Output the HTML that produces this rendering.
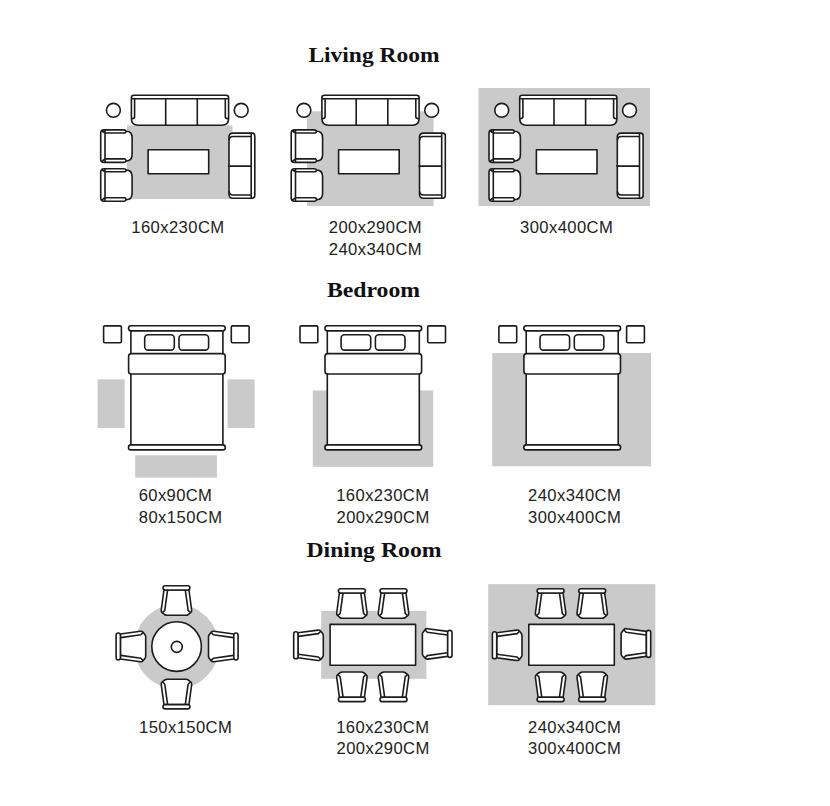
<!DOCTYPE html>
<html><head><meta charset="utf-8">
<style>
html,body{margin:0;padding:0;background:#fff;}
svg{display:block;}
.t{font-family:"Liberation Serif",serif;font-weight:bold;font-size:21px;fill:#111;}
.l{font-family:"Liberation Sans",sans-serif;font-size:16.6px;fill:#222;}
.s{fill:#fff;stroke:#1c1c1c;stroke-width:1.6;stroke-linejoin:round;stroke-linecap:round;}
.n{fill:none;stroke:#1c1c1c;stroke-width:1.6;stroke-linejoin:round;stroke-linecap:round;}
.r{fill:#cacaca;}
</style></head><body>
<svg width="830" height="806" viewBox="0 0 830 806">
<defs>
<!-- living room furniture set, absolute coords of first set -->
<g id="arm">
  <path class="s" d="M100.7,133.4 Q100.7,129.9 104.2,129.9 L124,129.9 Q125.5,129.9 126,131.3 L126.2,131.3 Q132.1,131.3 132.1,137.8 L132.1,154.5 Q132.1,161 126.2,161 L126,161 Q125.5,162.4 124,162.4 L104.2,162.4 Q100.7,162.4 100.7,158.9 Z"/>
  <path class="n" d="M105,130.6 L105,161.7 M105,133 L125,133 Q126,132.6 126,131.3 M105,158.9 L125,158.9 Q126,159.4 126,161 M101.7,131 L105,133 M101.7,161.3 L105,158.9"/>
</g>
<g id="living">
  <circle class="s" cx="113.4" cy="110.3" r="6.95"/>
  <circle class="s" cx="241.2" cy="110.3" r="6.95"/>
  <!-- sofa -->
  <path class="s" d="M131.4,97.8 Q131.4,95.3 133.9,95.3 L226.1,95.3 Q228.6,95.3 228.6,97.8 L228.6,118.5 Q228.6,125.2 222,125.2 L138,125.2 Q131.4,125.2 131.4,118.5 Z"/>
  <path class="n" d="M132.1,98.8 L227.9,98.8 M134.6,98.8 L134.6,116.8 Q134.6,118.6 131.9,118.8 M225.3,98.8 L225.3,116.8 Q225.3,118.6 228.1,118.8 M165.7,98.8 L165.7,125.2 M197.3,98.8 L197.3,125.2"/>
  <!-- coffee table -->
  <rect class="s" x="148.1" y="149.8" width="60.6" height="24"/>
  <use href="#arm"/>
  <use href="#arm" transform="translate(0,38.8)"/>
  <!-- loveseat -->
  <path class="s" d="M229,137.1 Q229,133.1 233,133.1 L252.2,133.1 Q254.8,133.1 254.8,135.7 L254.8,195.6 Q254.8,198.2 252.2,198.2 L233,198.2 Q229,198.2 229,194.2 Z"/>
  <path class="n" d="M251.2,133.4 L251.2,197.9 M229.2,139.6 Q229.5,136.5 233,136.5 L251.2,136.5 M229.2,191.9 Q229.5,195 233,195 L251.2,195 M228.6,166.1 L251.2,166.1"/>
</g>
<!-- bed -->
<g id="bed">
  <rect class="s" x="103.6" y="325.9" width="17.8" height="16.9" rx="1.2"/>
  <rect class="s" x="231.3" y="325.9" width="17.8" height="16.9" rx="1.2"/>
  <rect class="s" x="130.9" y="328" width="92" height="119"/>
  <rect class="s" x="128.5" y="325.7" width="96.8" height="5.2" rx="2.6"/>
  <rect class="s" x="144.7" y="334.8" width="29.6" height="15.3" rx="3.4"/>
  <rect class="s" x="179" y="334.8" width="29.6" height="15.3" rx="3.4"/>
  <rect class="s" x="128.6" y="353.6" width="96.6" height="20.4" rx="2.8"/>
  <rect class="s" x="128.5" y="444.9" width="96.8" height="5" rx="2.5"/>
</g>
<!-- dining chair: origin at centre-top of back bar, seat extends +y -->
<g id="chair">
  <path class="s" d="M-12.5,5 L-15.2,25 Q-15.4,26.7 -14.2,27.7 L-11.5,29.8 Q-10.7,30.3 -9.6,30.3 L9.6,30.3 Q10.7,30.3 11.5,29.8 L14.2,27.7 Q15.4,26.7 15.2,25 L12.5,5 Z"/>
  <path class="n" d="M-8.9,5.4 L-11.7,25.4 L-13.6,27.3 M8.9,5.4 L11.7,25.4 L13.6,27.3"/>
  <rect class="s" x="-13.5" y="0.7" width="27" height="4.3" rx="2.15"/>
</g>
<g id="dset">
  <rect class="s" x="330.1" y="624.4" width="85.5" height="40.8"/>
  <use href="#chair" transform="translate(351.9,588)"/>
  <use href="#chair" transform="translate(393.5,588)"/>
  <use href="#chair" transform="translate(351.9,702.3) rotate(180)"/>
  <use href="#chair" transform="translate(393.5,702.3) rotate(180)"/>
  <use href="#chair" transform="translate(293,645.3) rotate(-90)"/>
  <use href="#chair" transform="translate(452.7,643.9) rotate(90)"/>
</g>
</defs>

<!-- titles -->
<text class="t" x="308.4" y="61.6" textLength="131.2" lengthAdjust="spacingAndGlyphs">Living Room</text>
<text class="t" x="326.9" y="297.3" textLength="93.2" lengthAdjust="spacingAndGlyphs">Bedroom</text>
<text class="t" x="306.4" y="556.6" textLength="135.2" lengthAdjust="spacingAndGlyphs">Dining Room</text>

<!-- living room -->
<rect class="r" x="127" y="125.5" width="105.5" height="73.5"/>
<use href="#living"/>
<rect class="r" x="306.9" y="111.3" width="126.7" height="94.7"/>
<use href="#living" transform="translate(190.5,0)"/>
<rect class="r" x="478.5" y="88" width="171.5" height="118"/>
<use href="#living" transform="translate(388.3,0)"/>

<text class="l" x="131.3" y="232.7" textLength="92.8">160x230CM</text>
<text class="l" x="328.8" y="232.7" textLength="92.8">200x290CM</text>
<text class="l" x="328.8" y="254.5" textLength="92.8">240x340CM</text>
<text class="l" x="520" y="232.7" textLength="92.8">300x400CM</text>

<!-- bedroom -->
<rect class="r" x="97.6" y="379.4" width="27" height="48.7"/>
<rect class="r" x="227.5" y="379.4" width="27.1" height="48.7"/>
<rect class="r" x="135.2" y="455.3" width="81.7" height="22.3"/>
<use href="#bed"/>
<rect class="r" x="312.8" y="390.5" width="120.4" height="76.3"/>
<use href="#bed" transform="translate(196.4,0)"/>
<rect class="r" x="492.3" y="353" width="158.8" height="113.3"/>
<use href="#bed" transform="translate(395.3,0)"/>

<text class="l" x="138.7" y="500.8" textLength="73.2">60x90CM</text>
<text class="l" x="138.7" y="522.5" textLength="83.4">80x150CM</text>
<text class="l" x="336.2" y="500.8" textLength="92.8">160x230CM</text>
<text class="l" x="336.5" y="522.5" textLength="92.8">200x290CM</text>
<text class="l" x="528" y="500.8" textLength="92.8">240x340CM</text>
<text class="l" x="528" y="522.5" textLength="92.8">300x400CM</text>

<!-- dining -->
<circle class="r" cx="176.6" cy="646.7" r="42.3"/>
<circle class="s" cx="176.6" cy="646.6" r="24.8"/>
<circle class="s" cx="176.8" cy="646.9" r="5.5"/>
<use href="#chair" transform="translate(176.45,585)"/>
<use href="#chair" transform="translate(176.45,709.6) rotate(180)"/>
<use href="#chair" transform="translate(115.4,646.5) rotate(-90)"/>
<use href="#chair" transform="translate(238.8,646.5) rotate(90)"/>

<rect class="r" x="321.2" y="610.8" width="105.2" height="68"/>
<use href="#dset"/>
<rect class="r" x="488.2" y="584.1" width="167.1" height="121.1"/>
<use href="#dset" transform="translate(198.7,0)"/>

<text class="l" x="139" y="732.5" textLength="92.8">150x150CM</text>
<text class="l" x="336.2" y="732.5" textLength="92.8">160x230CM</text>
<text class="l" x="336.5" y="754.2" textLength="92.8">200x290CM</text>
<text class="l" x="528" y="732.5" textLength="92.8">240x340CM</text>
<text class="l" x="528" y="754.2" textLength="92.8">300x400CM</text>

</svg>
</body></html>
